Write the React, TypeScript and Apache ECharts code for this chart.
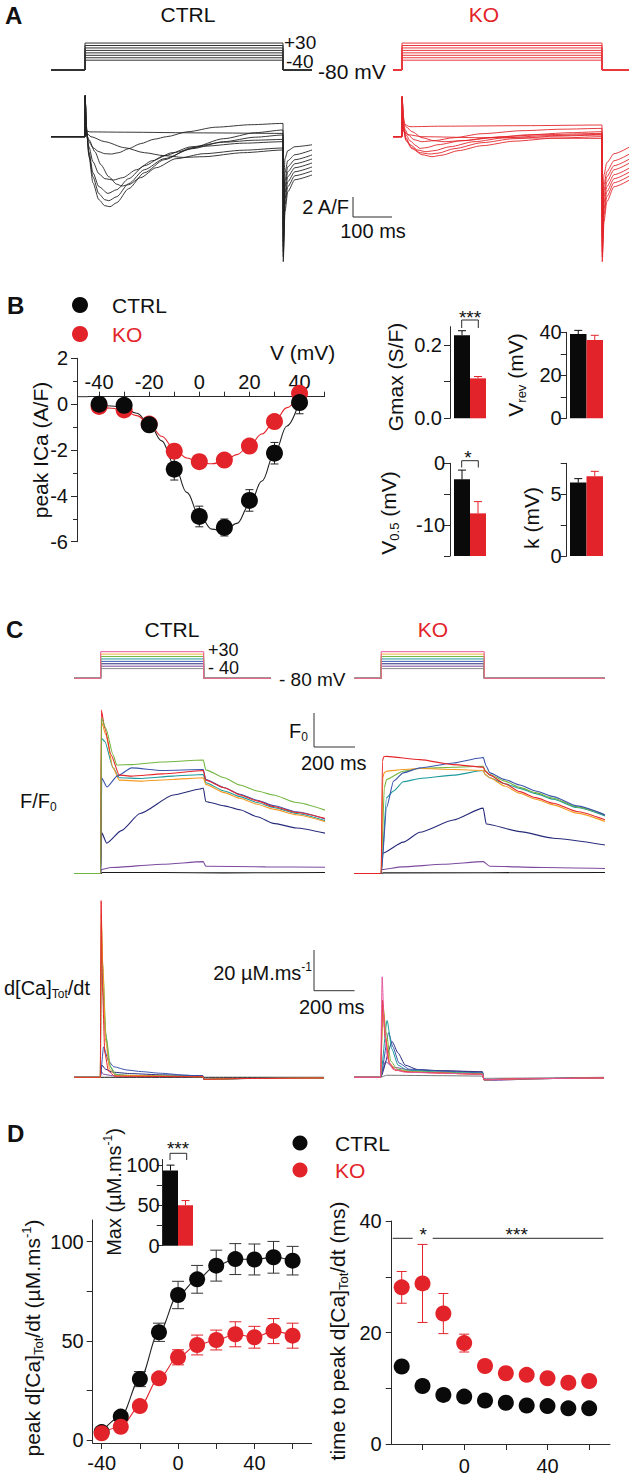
import React, { useEffect, useRef } from 'react';
import * as echarts from 'echarts';

// ---------------- shared protocol data ----------------
const stepVoltages = [-40, -30, -20, -10, 0, 10, 20, 30];
const holdingMv = -80;
const pulseOnMs = 0;
const pulseOffMs = 500;
const protoSpanA = [-90, 575];
const protoSpanC = [-130, 1090];
const groupNames = ['CTRL', 'KO'];

// ---------------- Panel A: CTRL currents (ms, A/F) ----------------
const ctrlI1 = [[-90,0],[0,0],[0.6,4.1],[3,0.6],[12,0.48],[100,0.45],[300,0.38],[500,0.33],[500.6,-6],[505,-2.2],[512,-1.4],[530,-1.0],[575,-0.8]];
const ctrlI2 = [[-90,0],[0,0],[0.6,4.1],[3,0.4],[15,0],[50,-0.5],[100,-1.1],[150,-1.6],[200,-1.9],[248,-2.07],[300,-2.0],[400,-1.6],[500,-1.33],[500.6,-9],[505,-3.6],[512,-2.4],[530,-1.8],[575,-1.3]];
const ctrlI3 = [[-90,0],[0,0],[0.6,4.1],[3,0.3],[10,-0.3],[25,-1.5],[40,-2.8],[60,-4.0],[80,-4.75],[93,-4.93],[110,-4.8],[140,-4.1],[180,-3.1],[230,-2.2],[300,-1.7],[400,-1.35],[500,-1.13],[500.6,-10],[505,-4.4],[512,-3.0],[530,-2.3],[575,-1.8]];
const ctrlI4 = [[-90,0],[0,0],[0.6,4.1],[3,0.4],[10,-1.0],[20,-2.5],[35,-3.7],[50,-4.2],[72,-4.33],[95,-4.1],[130,-3.3],[170,-2.4],[220,-1.6],[300,-0.95],[400,-0.65],[500,-0.5],[500.6,-10.5],[505,-5.0],[512,-3.5],[530,-2.7],[575,-2.2]];
const ctrlI5 = [[-90,0],[0,0],[0.6,4.1],[3,0.8],[10,-1.5],[20,-3.6],[35,-5.0],[58,-5.67],[80,-5.3],[110,-4.2],[150,-2.9],[200,-1.9],[270,-1.0],[350,-0.55],[430,-0.35],[500,-0.27],[500.6,-11],[505,-5.6],[512,-4.0],[530,-3.1],[575,-2.6]];
const ctrlI6 = [[-90,0],[0,0],[0.6,4.1],[3,1.0],[10,-1.8],[20,-4.0],[35,-5.7],[50,-6.3],[60,-6.4],[80,-6.0],[110,-4.7],[150,-3.3],[200,-2.2],[270,-1.2],[350,-0.5],[430,-0.05],[500,0.17],[500.6,-11.5],[505,-6.2],[512,-4.5],[530,-3.5],[575,-3.0]];
const ctrlI7 = [[-90,0],[0,0],[0.6,4.1],[3,1.2],[10,-2.0],[20,-4.6],[35,-6.3],[50,-6.9],[63,-7.0],[80,-6.6],[110,-5.2],[150,-3.6],[200,-2.3],[270,-1.1],[350,-0.2],[430,0.4],[500,0.67],[500.6,-12],[505,-6.8],[512,-5.0],[530,-3.9],[575,-3.4]];
const ctrlI8 = [[-90,0],[0,0],[0.6,4.1],[3,0.5],[10,-0.5],[20,-1.1],[35,-1.5],[50,-1.7],[67,-1.73],[85,-1.6],[110,-1.2],[140,-0.7],[175,-0.25],[206,0],[260,0.5],[330,0.95],[420,1.2],[500,1.33],[500.6,-12.5],[505,-7.5],[512,-5.5],[530,-4.3],[575,-3.8]];
const ctrlCurrents = [ctrlI1, ctrlI2, ctrlI3, ctrlI4, ctrlI5, ctrlI6, ctrlI7, ctrlI8];

// ---------------- Panel A: KO currents (ms, A/F) ----------------
const koI1 = [[-30,0],[0,0],[0.6,4.0],[3,2.0],[8,1.2],[20,1.0],[100,1.05],[300,1.1],[500,1.17],[500.6,-12.5],[505,-8.5],[512,-6.5],[530,-5.0],[570,-4.3]];
const koI2 = [[-30,0],[0,0],[0.6,4.0],[3,1.6],[8,0.7],[15,0.2],[30,-0.3],[50,-0.5],[80,-0.4],[130,-0.1],[200,0.3],[300,0.6],[400,0.75],[500,0.83],[500.6,-12],[505,-7.8],[512,-6.0],[530,-4.6],[570,-3.9]];
const koI3 = [[-30,0],[0,0],[0.6,4.0],[3,1.4],[10,1.0],[25,0.5],[50,-0.1],[80,-0.4],[105,-0.5],[150,-0.4],[220,-0.1],[320,0.2],[420,0.4],[500,0.5],[500.6,-11.5],[505,-7.2],[512,-5.5],[530,-4.2],[570,-3.5]];
const koI4 = [[-30,0],[0,0],[0.6,4.0],[3,1.2],[10,0.2],[20,-0.4],[35,-0.9],[45,-1.17],[60,-1.1],[90,-0.8],[150,-0.4],[250,0],[350,0.2],[500,0.33],[500.6,-11],[505,-6.6],[512,-5.0],[530,-3.8],[570,-3.1]];
const koI5 = [[-30,0],[0,0],[0.6,4.0],[3,1.0],[10,-0.1],[20,-0.8],[40,-1.35],[60,-1.5],[80,-1.4],[120,-1.0],[180,-0.5],[260,-0.1],[360,0.1],[500,0.23],[500.6,-10.5],[505,-6.0],[512,-4.5],[530,-3.3],[570,-2.6]];
const koI6 = [[-30,0],[0,0],[0.6,4.0],[3,0.9],[10,-0.3],[25,-1.1],[45,-1.6],[70,-1.73],[90,-1.65],[130,-1.2],[200,-0.6],[280,-0.2],[380,0.05],[500,0.17],[500.6,-10],[505,-5.4],[512,-4.0],[530,-2.9],[570,-2.2]];
const koI7 = [[-30,0],[0,0],[0.6,4.0],[3,0.8],[10,-0.4],[25,-1.2],[50,-1.8],[75,-2.0],[100,-1.85],[140,-1.4],[200,-0.9],[280,-0.45],[380,-0.15],[500,0],[500.6,-9.5],[505,-4.8],[512,-3.5],[530,-2.4],[570,-1.7]];
const koI8 = [[-30,0],[0,0],[0.6,4.0],[3,0.6],[15,0.2],[50,0],[200,-0.1],[500,-0.17],[500.6,-8],[505,-3.8],[512,-2.6],[530,-1.7],[570,-1.0]];
const koCurrents = [koI1, koI2, koI3, koI4, koI5, koI6, koI7, koI8];

// ---------------- Panel B: I-V ----------------
const ivV = [-40, -30, -20, -10, 0, 10, 20, 30, 40];
const ivCtrl = [0.0, -0.05, -0.9, -2.84, -4.9, -5.38, -4.2, -2.14, 0.07];
const ivCtrlErr = [0.1, 0.1, 0.15, 0.47, 0.45, 0.37, 0.47, 0.47, 0.49];
const ivKo = [-0.1, -0.25, -0.87, -2.05, -2.51, -2.44, -1.83, -0.76, 0.47];
const ivKoErr = [0.05, 0.05, 0.08, 0.12, 0.12, 0.15, 0.12, 0.2, 0.25];
const ivFitV = [-40, -35, -30, -25, -20, -15, -10, -5, 0, 5, 10, 15, 20, 25, 30, 35, 40];
const ivCtrlFit = [-0.05, -0.08, -0.15, -0.4, -0.85, -1.6, -2.65, -3.85, -4.85, -5.45, -5.55, -5.2, -4.4, -3.35, -2.15, -0.95, 0.15];
const ivKoFit = [-0.12, -0.18, -0.28, -0.5, -0.85, -1.4, -1.95, -2.35, -2.55, -2.6, -2.5, -2.2, -1.8, -1.3, -0.75, -0.15, 0.45];

// Panel B: bar summaries [CTRL, KO]
const gmaxMean = [0.227, 0.109];
const gmaxErr = [0.012, 0.005];
const vrevMean = [39.2, 36.4];
const vrevErr = [1.7, 2.2];
const v05Mean = [-2.6, -8.1];
const v05Err = [1.5, 1.9];
const kMean = [5.94, 6.45];
const kErr = [0.32, 0.4];

// ---------------- Panel C: F/F0 (ms, F/F0) ----------------
const ctrlF_black = [[-130,1],[0,1],[8,1.03],[300,1.03],[600,1.02],[1090,1.03]];
const ctrlF_purple = [[-130,1],[0,1],[3,1.12],[50,1.18],[300,1.28],[498,1.36],[510,1.22],[800,1.2],[1090,1.19]];
const ctrlF_navy = [[-130,1],[0,1],[5,2.23],[29,1.92],[100,2.3],[191,2.82],[353,3.38],[482,3.56],[498,3.59],[510,3.18],[531,3.15],[600,3.05],[676,2.93],[760,2.72],[838,2.52],[950,2.38],[1090,2.22]];
const ctrlF_teal = [[-130,1],[0,1],[4,5.1],[20,5.0],[60,4.2],[90,3.9],[200,3.88],[350,3.95],[498,4.0],[510,3.75],[600,3.5],[676,3.33],[760,3.15],[838,3.0],[950,2.82],[1090,2.6]];
const ctrlF_orange = [[-130,1],[0,1],[4,5.6],[25,5.2],[60,4.2],[90,3.83],[200,3.8],[350,3.85],[498,3.9],[510,3.7],[600,3.45],[676,3.28],[760,3.1],[838,2.95],[950,2.78],[1090,2.57]];
const ctrlF_blue = [[-130,1],[0,1],[5,3.89],[30,3.62],[80,3.95],[150,4.2],[300,4.12],[498,4.15],[510,3.85],[600,3.6],[676,3.4],[760,3.22],[838,3.06],[950,2.87],[1090,2.65]];
const ctrlF_red = [[-130,1],[0,1],[3,5.95],[20,5.4],[50,4.6],[90,3.98],[150,3.95],[300,4.02],[498,4.12],[510,3.83],[600,3.6],[676,3.38],[760,3.2],[838,3.03],[950,2.85],[1090,2.67]];
const ctrlF_green = [[-130,1],[0,1],[4,5.7],[25,5.4],[60,4.6],[78,4.29],[150,4.3],[300,4.38],[498,4.44],[510,4.14],[600,3.9],[676,3.68],[760,3.5],[838,3.38],[950,3.15],[1090,2.92]];

const koF_black = [[-130,1],[0,1],[10,1.02],[1090,1.03]];
const koF_purple = [[-130,1],[0,1],[3,1.12],[100,1.2],[300,1.28],[495,1.36],[527,1.22],[800,1.18],[1090,1.15]];
const koF_navy = [[-130,1],[0,1],[5,1.61],[107,1.95],[188,2.25],[350,2.62],[495,2.98],[510,2.5],[673,2.27],[835,2.07],[1090,1.86]];
const koF_teal = [[-130,1],[0,1],[26,3.3],[60,3.5],[107,3.78],[188,3.88],[350,3.98],[495,4.12],[505,4.0],[527,3.9],[600,3.72],[673,3.58],[750,3.42],[835,3.25],[950,3.0],[1090,2.74]];
const koF_green = [[-130,1],[0,1],[15,3.6],[26,3.85],[107,4.1],[188,4.18],[350,4.22],[495,4.25],[505,4.12],[527,4.0],[600,3.8],[673,3.61],[750,3.45],[835,3.28],[950,3.02],[1090,2.77]];
const koF_orange = [[-130,1],[0,1],[8,3.9],[14,4.05],[26,4.1],[107,4.15],[188,4.18],[350,4.15],[495,4.12],[505,4.0],[527,3.9],[600,3.65],[673,3.43],[750,3.25],[835,3.08],[950,2.83],[1090,2.57]];
const koF_blue = [[-130,1],[0,1],[26,3.0],[60,3.8],[107,4.05],[188,4.2],[350,4.35],[480,4.5],[495,4.52],[510,4.25],[527,4.05],[600,3.85],[673,3.68],[750,3.5],[835,3.33],[950,3.05],[1090,2.77]];
const koF_red = [[-130,1],[0,1],[6,4.4],[12,4.54],[26,4.55],[188,4.45],[350,4.3],[495,4.22],[505,4.1],[527,3.98],[600,3.72],[673,3.48],[750,3.3],[835,3.13],[950,2.88],[1090,2.62]];

// ---------------- Panel C: d[Ca]Tot/dt (ms, uM/ms) ----------------
const ctrlD_black = [[-130,0],[0,0],[500,0],[1090,0]];
const ctrlD_purple = [[-130,0],[0,0],[4,3],[15,1.5],[60,0.8],[498,0.5],[503,-1],[700,-0.6],[1090,-0.3]];
const ctrlD_navy = [[-130,0],[0,0],[8,6],[25,4],[60,2.5],[150,1.8],[300,1.2],[498,0.8],[503,-1],[700,-0.6],[1090,-0.3]];
const ctrlD_blue = [[-130,0],[0,0],[16,15],[40,8],[65,5.2],[129,3.6],[200,2.8],[291,2],[420,1],[498,0.5],[503,-1],[700,-0.6],[1090,-0.3]];
const ctrlD_teal = [[-130,0],[0,0],[5,62],[12,45],[25,22],[45,6],[70,1.5],[150,0.8],[498,0.4],[503,-1],[700,-0.6],[1090,-0.3]];
const ctrlD_green = [[-130,0],[0,0],[5,75],[12,55],[28,20],[50,5],[80,1],[498,0.3],[503,-1],[700,-0.6],[1090,-0.3]];
const ctrlD_orange = [[-130,0],[0,0],[5,80],[12,55],[26,18],[45,4],[75,1],[498,0.3],[503,-1],[700,-0.6],[1090,-0.3]];
const ctrlD_red = [[-130,0],[0,0],[4,87],[10,45],[22,12],[40,3],[70,0.5],[498,0.3],[503,-1],[700,-0.6],[1090,-0.3]];

const koD_black = [[-130,0],[0,0],[30,1],[300,0.8],[495,0.6],[502,-0.5],[1090,0]];
const koD_purple = [[-130,0],[0,0],[24,7.7],[60,5],[146,3.6],[300,3.2],[495,2.8],[502,-1.3],[550,-1.5],[800,-0.6],[1090,-0.3]];
const koD_navy = [[-130,0],[0,0],[57,17.5],[85,12],[120,6],[180,3.8],[300,3.2],[495,2.6],[502,-1.2],[700,-0.7],[1090,-0.3]];
const koD_blue = [[-130,0],[0,0],[40,22],[60,15],[90,7],[140,4],[300,3],[495,2.2],[502,-1.2],[700,-0.7],[1090,-0.3]];
const koD_teal = [[-130,0],[0,0],[32,28],[55,14],[85,6],[130,3.5],[300,2.5],[495,2],[502,-1.2],[700,-0.7],[1090,-0.3]];
const koD_green = [[-130,0],[0,0],[12,35],[28,22],[50,8],[80,4],[150,2.8],[495,1.8],[502,-1.2],[700,-0.7],[1090,-0.3]];
const koD_orange = [[-130,0],[0,0],[12,36],[25,20],[45,7],[75,3.5],[150,2.5],[495,1.5],[502,-1.2],[700,-0.7],[1090,-0.3]];
const koD_red = [[-130,0],[0,0],[10,38],[22,20],[42,7],[70,3.5],[150,2.5],[495,1.5],[502,-1.2],[700,-0.7],[1090,-0.3]];
const koD_pink = [[-130,0],[0,0],[8,49.5],[18,25],[35,9],[60,4],[120,2.5],[300,2],[495,1.5],[502,-1.2],[700,-0.7],[1090,-0.3]];

// ---------------- Panel D ----------------
const maxMean = [93.3, 50.2];
const maxErr = [6.7, 5.8];
const dV = [-40, -30, -20, -10, 0, 10, 20, 30, 40, 50, 60];
const dCtrl = [4, 11.8, 30.7, 54.3, 73.1, 81, 87.9, 91.2, 91, 92.1, 90.4];
const dCtrlErr = [1, 1.5, 3.8, 4.6, 6.9, 7, 7.8, 7.8, 7.8, 8, 7.2];
const dKo = [3.4, 6.7, 17.1, 31.1, 41.7, 47.9, 50.4, 53.3, 51.8, 54.9, 52.6];
const dKoErr = [1, 1.2, 1.5, 1.5, 3.8, 5, 5, 6.3, 5.5, 6.3, 6.3];
const tV = [-30, -20, -10, 0, 10, 20, 30, 40, 50, 60];
const tCtrl = [13.9, 10.4, 8.8, 8.5, 7.8, 7.4, 6.9, 6.8, 6.4, 6.4];
const tCtrlErr = [0.6, 0.5, 0.4, 0.4, 0.3, 0.3, 0.3, 0.3, 0.3, 0.3];
const tKo = [28.1, 28.8, 23.4, 18.1, 14.0, 12.7, 12.4, 11.8, 11.0, 11.3];
const tKoErr = [2.85, 7, 3.6, 1.6, 0.5, 0.5, 0.5, 0.5, 0.5, 0.5];

// ---------------- styles ----------------
const FONT = '"Liberation Sans", Arial, Helvetica, sans-serif';
const TXT = '#111111';
const AX = '#2a2a2a';
const BLK = '#0a0a0a';
const RED = '#e3232a';
const C_BLACK = '#1a1a1a';
const C_PURPLE = '#7d4b9e';
const C_NAVY = '#262a7a';
const C_BLUE = '#3b55ad';
const C_TEAL = '#1d9a9c';
const C_GREEN = '#72b640';
const C_ORANGE = '#f59a23';
const C_RED = '#e5262b';
const C_PINK = '#e6579f';
const protoColorsC = ['#8a8a8a', C_PURPLE, C_NAVY, C_BLUE, C_TEAL, C_GREEN, '#f2b53a', C_PINK];

function buildOption() {
  const grid: any[] = [];
  const xAxis: any[] = [];
  const yAxis: any[] = [];
  const series: any[] = [];
  const graphic: any[] = [];

  const add = (g: number[], xa: any, ya: any) => {
    const i = grid.length;
    grid.push({ left: g[0], top: g[1], width: g[2], height: g[3], containLabel: false, outerBoundsMode: 'none' });
    xAxis.push({ ...xa, gridIndex: i });
    yAxis.push({ ...ya, gridIndex: i });
    return i;
  };
  const hid = (min: number, max: number) => ({ type: 'value', show: false, min, max, splitLine: { show: false } });
  const xr = (l: number, r: number, p0: number, s: number) => hid((l - p0) / s, (r - p0) / s);
  const yr = (t: number, b: number, p0: number, v0: number, s: number) => hid(v0 - (b - p0) / s, v0 + (p0 - t) / s);
  const cat = { type: 'category', data: groupNames, show: false, boundaryGap: true };
  const vis = (o: any) => ({
    type: 'value', min: o.min, max: o.max, interval: o.interval, position: o.position, offset: o.offset || 0,
    axisLine: { show: true, onZero: false, lineStyle: { color: AX, width: 1 } },
    axisTick: { show: true, length: o.tickLen || 6, customValues: o.ticks, lineStyle: { color: AX, width: 1 } },
    minorTick: o.minor ? { show: true, splitNumber: 2, length: 4, lineStyle: { color: AX, width: 1 } } : { show: false },
    axisLabel: { show: true, customValues: o.labels, margin: o.margin ?? 8, color: TXT, fontSize: 20, fontFamily: FONT, formatter: o.fmt },
    splitLine: { show: false },
    minorSplitLine: { show: false },
  });
  const line = (gi: number, data: any, color: string, width = 1, z = 2, smooth: any = false) => ({
    type: 'line', xAxisIndex: gi, yAxisIndex: gi, data, showSymbol: false, symbol: 'none',
    lineStyle: { color, width }, itemStyle: { color }, silent: true, z, animation: false, clip: true,
    smooth, smoothMonotone: 'x',
  });
  const dots = (gi: number, data: any, color: string, size: number, z: number) => ({
    type: 'scatter', xAxisIndex: gi, yAxisIndex: gi, data, symbol: 'circle', symbolSize: size,
    itemStyle: { color, opacity: 1, borderWidth: 0 }, z, silent: true, animation: false,
  });
  const protoPath = (v: number, span: number[]) => [[span[0], holdingMv], [pulseOnMs, holdingMv], [pulseOnMs, v], [pulseOffMs, v], [pulseOffMs, holdingMv], [span[1], holdingMv]];
  const errSeries = (gi: number, data: any, color: string, cap: number, z = 1) => ({
    type: 'custom', xAxisIndex: gi, yAxisIndex: gi, data, z, silent: true, animation: false,
    encode: { x: 0, y: 1 },
    renderItem: (_p: any, api: any) => {
      const x = api.value(0), y = api.value(1), e = api.value(2);
      const a = api.coord([x, y + e]);
      const b = api.coord([x, y - e]);
      const st = { stroke: color, lineWidth: 1 };
      return {
        type: 'group', children: [
          { type: 'line', shape: { x1: a[0], y1: a[1], x2: b[0], y2: b[1] }, style: st },
          { type: 'line', shape: { x1: a[0] - cap, y1: a[1], x2: a[0] + cap, y2: a[1] }, style: st },
          { type: 'line', shape: { x1: b[0] - cap, y1: b[1], x2: b[0] + cap, y2: b[1] }, style: st },
        ],
      };
    },
  });
  const barSeries = (gi: number, means: number[], errs: number[], base: number) => ({
    type: 'custom', xAxisIndex: gi, yAxisIndex: gi, silent: true, animation: false,
    data: means.map((m, i) => [i, m, errs[i]]),
    encode: { x: 0, y: 1 },
    renderItem: (_p: any, api: any) => {
      const i = api.value(0), v = api.value(1), e = api.value(2);
      const w = api.size([1, 0])[0];
      const pB = api.coord([i, base]);
      const pV = api.coord([i, v]);
      const pE = api.coord([i, v + e]);
      const color = i === 0 ? BLK : RED;
      return {
        type: 'group', children: [
          { type: 'rect', shape: { x: pV[0] - w / 2, y: Math.min(pV[1], pB[1]), width: w, height: Math.abs(pB[1] - pV[1]) }, style: { fill: color } },
          { type: 'line', shape: { x1: pV[0], y1: pV[1], x2: pV[0], y2: pE[1] }, style: { stroke: color, lineWidth: 1 } },
          { type: 'line', shape: { x1: pV[0] - 4, y1: pE[1], x2: pV[0] + 4, y2: pE[1] }, style: { stroke: color, lineWidth: 1 } },
        ],
      };
    },
  });
  const rich = (size: number, color: string) => ({
    sub: { fontSize: Math.round(size * 0.6), fontFamily: FONT, fill: color, verticalAlign: 'bottom', lineHeight: Math.round(size * 0.6) },
    sup: { fontSize: Math.round(size * 0.6), fontFamily: FONT, fill: color, verticalAlign: 'top', lineHeight: Math.round(size * 0.6) },
  });
  const txt = (x: number, y: number, text: string, o: any = {}) => {
    const size = o.size || 20;
    const color = o.color || TXT;
    graphic.push({
      type: 'text', x, y, rotation: o.rot ? Math.PI / 2 : 0, silent: true, z: 100,
      style: {
        text, fill: color, fontSize: size, fontFamily: FONT, fontWeight: o.bold ? 'bold' : 'normal',
        align: o.align || 'left', verticalAlign: 'middle', lineHeight: o.lh || Math.round(size * 1.2), rich: rich(size, color),
      },
    });
  };
  const seg = (pts: number[][], color = AX, w = 1) => {
    graphic.push({ type: 'polyline', silent: true, z: 100, shape: { points: pts }, style: { stroke: color, lineWidth: w, fill: null } });
  };

  // ================= Panel A =================
  const gA1 = add([52, 38, 259, 36], xr(52, 311, 85, 0.396), yr(38, 74, 70, -80, 0.245));
  const gA2 = add([52, 88, 259, 178], xr(52, 311, 85, 0.396), yr(88, 266, 136.7, 0, 10));
  const gA3 = add([394, 38, 234, 36], xr(394, 628, 402, 0.4), yr(38, 74, 70, -80, 0.245));
  const gA4 = add([394, 88, 234, 178], xr(394, 628, 402, 0.4), yr(88, 266, 136.7, 0, 10));
  stepVoltages.forEach((v) => series.push(line(gA1, protoPath(v, protoSpanA), '#333333', 1)));
  stepVoltages.forEach((v) => series.push(line(gA3, protoPath(v, protoSpanA), '#e8383d', 1)));
  ctrlCurrents.forEach((d) => series.push(line(gA2, d, '#222222', 0.9, 2, 0.25)));
  koCurrents.forEach((d) => series.push(line(gA4, d, '#e3262b', 0.9, 2, 0.25)));

  txt(5, 15, 'A', { size: 24, bold: true });
  txt(188, 14, 'CTRL', { size: 21, align: 'center' });
  txt(484, 14, 'KO', { size: 21, align: 'center', color: RED });
  txt(284, 42, '+30', { size: 19, lh: 18 });
  txt(286, 61, '-40', { size: 19, lh: 18 });
  txt(318, 71, '-80 mV', { size: 21 });
  seg([[353, 197], [353, 217], [392, 217]]);
  txt(349, 207, '2 A/F', { size: 20, align: 'right' });
  txt(373, 231, '100 ms', { size: 20, align: 'center' });

  // ================= Panel B =================
  const gB = add([88.3, 358.3, 236.3, 183.4],
    vis({ min: -44.3, max: 50, position: 'top', offset: -38.4, ticks: [-40, -30, -20, -10, 0, 10, 20, 30, 40, 50], labels: [-40, -20, 0, 20, 40], margin: 5, tickLen: 5 }),
    vis({ min: -6, max: 2, interval: 2, minor: true, offset: 11.3, margin: 9 }));
  series.push(line(gB, ivFitV.map((v, i) => [v, ivCtrlFit[i]]), '#222222', 1.1, 2, 0.4));
  series.push(line(gB, ivFitV.map((v, i) => [v, ivKoFit[i]]), RED, 1.1, 2, 0.4));
  series.push(errSeries(gB, ivV.map((v, i) => [v, ivKo[i], ivKoErr[i]]), RED, 4, 3));
  series.push(errSeries(gB, ivV.map((v, i) => [v, ivCtrl[i], ivCtrlErr[i]]), '#222222', 4, 3));
  series.push(dots(gB, ivV.map((v, i) => [v, ivKo[i]]), RED, 17, 4));
  series.push(dots(gB, ivV.map((v, i) => [v, ivCtrl[i]]), BLK, 17, 5));
  seg([[77, 396.7], [88.3, 396.7]]);

  txt(7, 305, 'B', { size: 24, bold: true });
  graphic.push({ type: 'circle', silent: true, shape: { cx: 80, cy: 305, r: 8 }, style: { fill: BLK } });
  graphic.push({ type: 'circle', silent: true, shape: { cx: 80, cy: 334, r: 8 }, style: { fill: RED } });
  txt(112, 305, 'CTRL', { size: 21 });
  txt(112, 334, 'KO', { size: 21, color: RED });
  txt(270, 352, 'V (mV)', { size: 21 });
  txt(40, 450, 'peak ICa (A/F)', { size: 21, rot: true, align: 'center' });

  const gG = add([454, 326.7, 32, 91.6], cat, vis({ min: 0, max: 0.25, offset: 4, ticks: [0, 0.1, 0.2], labels: [0, 0.2], fmt: (v: number) => v.toFixed(1), margin: 8 }));
  const gVr = add([570, 332.3, 33, 86], cat, vis({ min: 0, max: 40, offset: 3.3, ticks: [0, 10, 20, 30, 40], labels: [0, 20, 40], margin: 5 }));
  const gV5 = add([454, 463.3, 32, 92.7], cat, vis({ min: -15, max: 0, offset: 4, ticks: [-15, -10, -5, 0], labels: [-10, 0], margin: 5 }));
  const gK = add([570, 463.3, 33, 92.7], cat, vis({ min: 0, max: 7.5, offset: 3.3, ticks: [0, 2.5, 5, 7.5], labels: [0, 5], margin: 5 }));
  series.push(barSeries(gG, gmaxMean, gmaxErr, 0));
  series.push(barSeries(gVr, vrevMean, vrevErr, 0));
  series.push(barSeries(gV5, v05Mean, v05Err, -15));
  series.push(barSeries(gK, kMean, kErr, 0));
  txt(395, 377, 'Gmax (S/F)', { size: 21, rot: true, align: 'center' });
  txt(515, 375, 'V{sub|rev} (mV)', { size: 21, rot: true, align: 'center' });
  txt(388, 513, 'V{sub|0.5} (mV)', { size: 21, rot: true, align: 'center' });
  txt(531, 518, 'k (mV)', { size: 21, rot: true, align: 'center' });
  seg([[461.7, 328], [461.7, 320], [478.3, 320], [478.3, 328]]);
  txt(470, 317, '***', { size: 19, align: 'center' });
  seg([[461.7, 467.5], [461.7, 460.7], [478.3, 460.7], [478.3, 467.5]]);
  txt(468, 457, '*', { size: 19, align: 'center' });

  // ================= Panel C =================
  const gC1 = add([75, 645, 195, 37], xr(75, 270, 100.7, 0.206), yr(645, 682, 678.3, -80, 0.242));
  const gC2 = add([355, 645, 248.5, 37], xr(355, 603.5, 381.2, 0.206), yr(645, 682, 678.3, -80, 0.242));
  const gC3 = add([75, 700, 248.3, 182], xr(75, 323.3, 100.7, 0.206), yr(700, 882, 873.5, 1, 33));
  const gC4 = add([355, 700, 248.3, 182], xr(355, 603.3, 381.2, 0.206), yr(700, 882, 873.5, 1, 33));
  const gC5 = add([75, 895, 248, 190], xr(75, 323, 100.3, 0.206), yr(895, 1085, 1077.3, 0, 2.03));
  const gC6 = add([355, 895, 248, 190], xr(355, 603, 380.5, 0.206), yr(895, 1085, 1077.3, 0, 2.03));
  stepVoltages.forEach((v, i) => series.push(line(gC1, protoPath(v, protoSpanC), protoColorsC[i], 1)));
  stepVoltages.forEach((v, i) => series.push(line(gC2, protoPath(v, protoSpanC), protoColorsC[i], 1)));

  const ctrlF = [[ctrlF_black, C_BLACK], [ctrlF_purple, C_PURPLE], [ctrlF_navy, C_NAVY], [ctrlF_teal, C_TEAL], [ctrlF_orange, C_ORANGE], [ctrlF_blue, C_BLUE], [ctrlF_red, C_RED], [ctrlF_green, C_GREEN]];
  const koF = [[koF_black, C_BLACK], [koF_purple, C_PURPLE], [koF_navy, C_NAVY], [koF_teal, C_TEAL], [koF_green, C_GREEN], [koF_orange, C_ORANGE], [koF_blue, C_BLUE], [koF_red, C_RED]];
  ctrlF.forEach(([d, c]: any) => series.push(line(gC3, d, c, 1.1, 2, 0.2)));
  koF.forEach(([d, c]: any) => series.push(line(gC4, d, c, 1.1, 2, 0.2)));
  const ctrlD = [[ctrlD_black, C_BLACK], [ctrlD_purple, C_PURPLE], [ctrlD_navy, C_NAVY], [ctrlD_blue, C_BLUE], [ctrlD_teal, C_TEAL], [ctrlD_green, C_GREEN], [ctrlD_orange, C_ORANGE], [ctrlD_red, C_RED]];
  const koD = [[koD_black, '#777777'], [koD_purple, C_PURPLE], [koD_navy, C_NAVY], [koD_blue, C_BLUE], [koD_teal, C_TEAL], [koD_green, C_GREEN], [koD_orange, C_ORANGE], [koD_red, C_RED], [koD_pink, C_PINK]];
  ctrlD.forEach(([d, c]: any) => series.push(line(gC5, d, c, 1, 2, 0.2)));
  koD.forEach(([d, c]: any) => series.push(line(gC6, d, c, 1, 2, 0.2)));

  txt(6, 629, 'C', { size: 24, bold: true });
  txt(172, 629, 'CTRL', { size: 21, align: 'center' });
  txt(433, 629, 'KO', { size: 21, align: 'center', color: RED });
  txt(208, 650, '+30', { size: 18, lh: 17 });
  txt(208, 668, '- 40', { size: 18, lh: 17 });
  txt(279, 679, '- 80 mV', { size: 19 });
  seg([[314, 713], [314, 747], [355, 747]], '#333333');
  txt(289, 731, 'F{sub|0}', { size: 20 });
  txt(301, 763, '200 ms', { size: 20 });
  txt(20, 801, 'F/F{sub|0}', { size: 20 });
  seg([[314, 950], [314, 990.7], [354.5, 990.7]], '#333333');
  txt(312, 973, '20 µM.ms{sup|-1}', { size: 20, align: 'right' });
  txt(299, 1007, '200 ms', { size: 20 });
  txt(4, 988, 'd[Ca]{sub|Tot}/dt', { size: 20 });

  // ================= Panel D =================
  const gDi = add([163, 1159.5, 30, 86.2], cat, vis({ min: 0, max: 107, offset: 0.3, ticks: [0, 25, 50, 75, 100], labels: [0, 50, 100], margin: 3 }));
  series.push(barSeries(gDi, maxMean, maxErr, 0));
  const gDl = add([92.7, 1220, 219, 223],
    vis({ min: -44.7, max: 70, position: 'bottom', ticks: [-40, -20, 0, 20, 40, 60], labels: [-40, 0, 40], margin: 10 }),
    vis({ min: -1.5, max: 110.9, ticks: [0, 25, 50, 75, 100], labels: [0, 50, 100], margin: 9 }));
  series.push(line(gDl, dV.map((v, i) => [v, dCtrl[i]]), '#222222', 1.1, 2, 0.35));
  series.push(line(gDl, dV.map((v, i) => [v, dKo[i]]), RED, 1.1, 2, 0.35));
  series.push(errSeries(gDl, dV.map((v, i) => [v, dCtrl[i], dCtrlErr[i]]), '#333333', 6, 3));
  series.push(errSeries(gDl, dV.map((v, i) => [v, dKo[i], dKoErr[i]]), RED, 6, 3));
  series.push(dots(gDl, dV.map((v, i) => [v, dCtrl[i]]), BLK, 16, 4));
  series.push(dots(gDl, dV.map((v, i) => [v, dKo[i]]), RED, 16, 5));

  const gDr = add([391.7, 1221, 218.3, 223],
    vis({ min: -34.8, max: 70, position: 'bottom', ticks: [-20, 0, 20, 40, 60], labels: [0, 40], margin: 12 }),
    vis({ min: 0, max: 40, ticks: [0, 10, 20, 30, 40], labels: [0, 20, 40], margin: 10 }));
  series.push(errSeries(gDr, tV.map((v, i) => [v, tCtrl[i], tCtrlErr[i]]), '#333333', 5, 3));
  series.push(errSeries(gDr, tV.map((v, i) => [v, tKo[i], tKoErr[i]]), RED, 5, 3));
  series.push(dots(gDr, tV.map((v, i) => [v, tCtrl[i]]), BLK, 16, 4));
  series.push(dots(gDr, tV.map((v, i) => [v, tKo[i]]), RED, 16, 5));

  txt(7, 1133, 'D', { size: 24, bold: true });
  graphic.push({ type: 'circle', silent: true, shape: { cx: 300, cy: 1143, r: 7.5 }, style: { fill: BLK } });
  graphic.push({ type: 'circle', silent: true, shape: { cx: 300, cy: 1170, r: 7.5 }, style: { fill: RED } });
  txt(335, 1143, 'CTRL', { size: 21 });
  txt(335, 1170, 'KO', { size: 21, color: RED });
  txt(114, 1192, 'Max (µM.ms{sup|-1})', { size: 20, rot: true, align: 'center' });
  seg([[170, 1160], [170, 1153.3], [186.7, 1153.3], [186.7, 1160]]);
  txt(178, 1148, '***', { size: 19, align: 'center' });
  txt(32, 1338, 'peak d[Ca]{sub|Tot}/dt (µM.ms{sup|-1})', { size: 21, rot: true, align: 'center' });
  txt(337, 1331, 'time to peak d[Ca]{sub|Tot}/dt (ms)', { size: 21, rot: true, align: 'center' });
  seg([[392.7, 1238.3], [412.7, 1238.3]]);
  seg([[432.7, 1238.3], [603.3, 1238.3]]);
  txt(423.3, 1234, '*', { size: 19, align: 'center' });
  txt(516.7, 1234, '***', { size: 19, align: 'center' });

  return {
    animation: false,
    backgroundColor: '#ffffff',
    textStyle: { fontFamily: FONT },
    grid, xAxis, yAxis, series, graphic,
  };
}

export default function App() {
  const ref = useRef<HTMLDivElement>(null);
  useEffect(() => {
    if (!ref.current) return;
    const chart = echarts.init(ref.current, null, { renderer: 'svg' });
    chart.setOption(buildOption() as any);
    return () => chart.dispose();
  }, []);
  return <div ref={ref} style={{ position: 'absolute', left: 0, top: 0, width: 633, height: 1478, background: '#fff' }} />;
}
